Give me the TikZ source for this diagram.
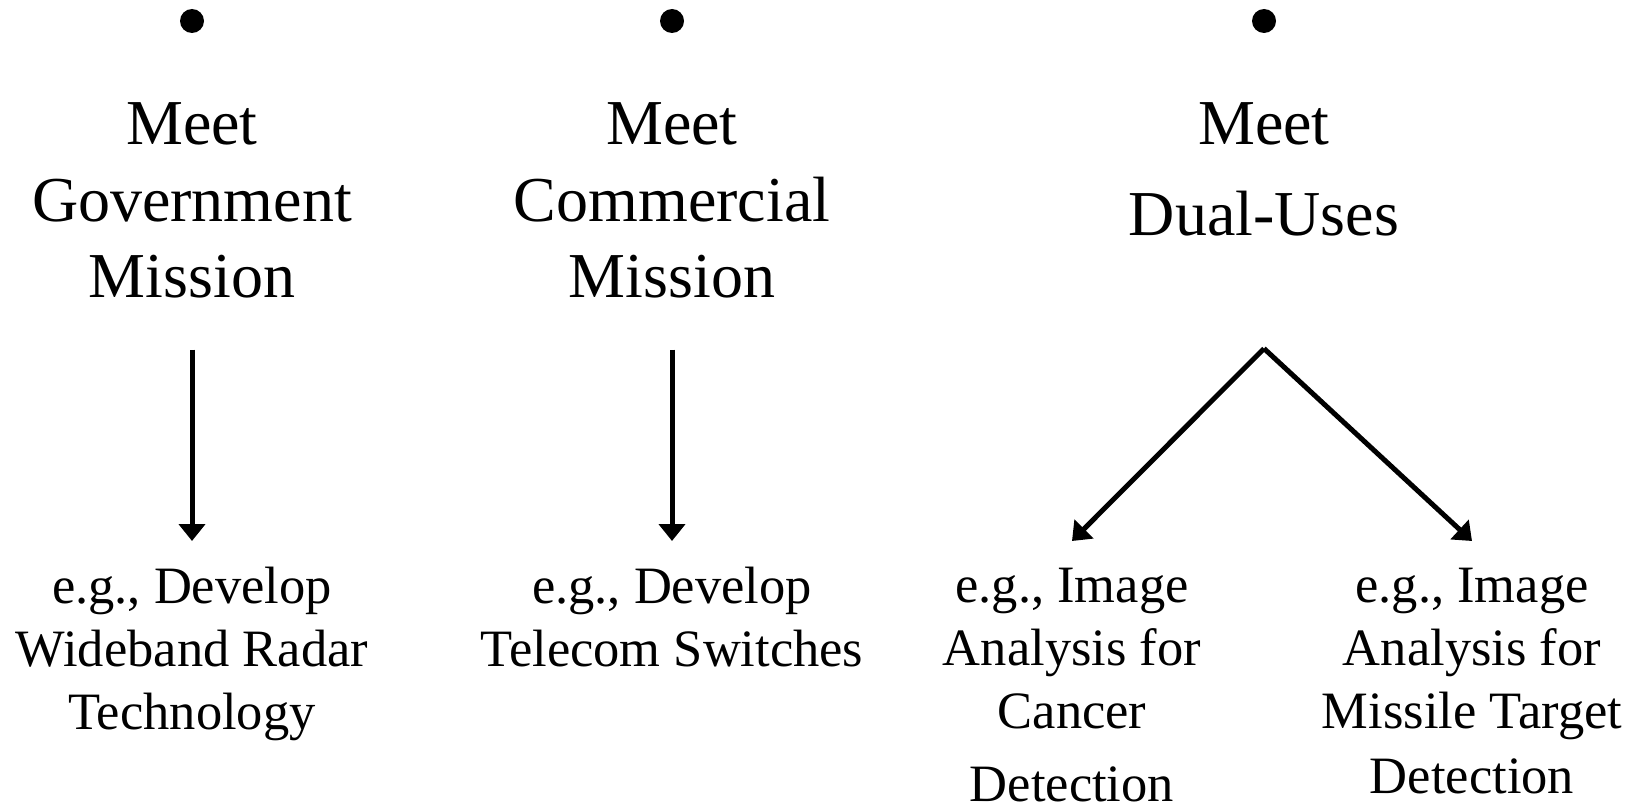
\documentclass[tikz,border=0pt]{standalone}
\usepackage{fontspec}
\setmainfont{Liberation Serif}
\usetikzlibrary{arrows.meta}
\tikzset{
  dot/.style={circle,fill=black,inner sep=0pt,minimum size=24pt},
  bigtext/.style={anchor=north,inner sep=0pt,align=center,font=\fontsize{64}{76.5}\selectfont},
  smalltext/.style={anchor=north,inner sep=0pt,align=center,font=\fontsize{52.5}{63}\selectfont},
  arr/.style={line width=5pt,-{Triangle[width=26pt,length=17pt]}}
}
\begin{document}
\begin{tikzpicture}[x=1pt,y=-1pt]
\useasboundingbox (0,0) rectangle (1640,808);
% bullets
\node[dot] (d1) at (192,21) {};
\node[dot] (d2) at (672,21) {};
\node[dot] (d3) at (1264,21) {};
% headings
\node[bigtext] (t1) at (192,102.6) {Meet\\Government\\Mission};
\node[bigtext] (t2) at (672,102.6) {Meet\\Commercial\\Mission};
\node[bigtext] (t3) at (1264,102.6) {Meet\\[14.5pt]Dual-Uses};
% examples
\node[smalltext] (b1) at (192,567) {e.g., Develop\\Wideband Radar\\Technology};
\node[smalltext] (b2) at (672,567) {e.g., Develop\\Telecom Switches};
\node[smalltext] (b3a) at (1072,568) {e.g., Image\\Analysis for\\Cancer\\[10pt]Detection};
\node[smalltext] (b3b) at (1472,568) {e.g., Image\\Analysis for\\Missile Target\\[2pt]Detection};
% connectors
\draw[arr] ([yshift=-51pt]t1.south) -- ([yshift=26pt]b1.north);
\draw[arr] ([yshift=-51pt]t2.south) -- ([yshift=26pt]b2.north);
\coordinate (split) at ([yshift=-112pt]t3.south);
\draw[arr] (split) -- ([yshift=27pt]b3a.north);
\draw[arr] (split) -- ([yshift=27pt]b3b.north);
\end{tikzpicture}
\end{document}
